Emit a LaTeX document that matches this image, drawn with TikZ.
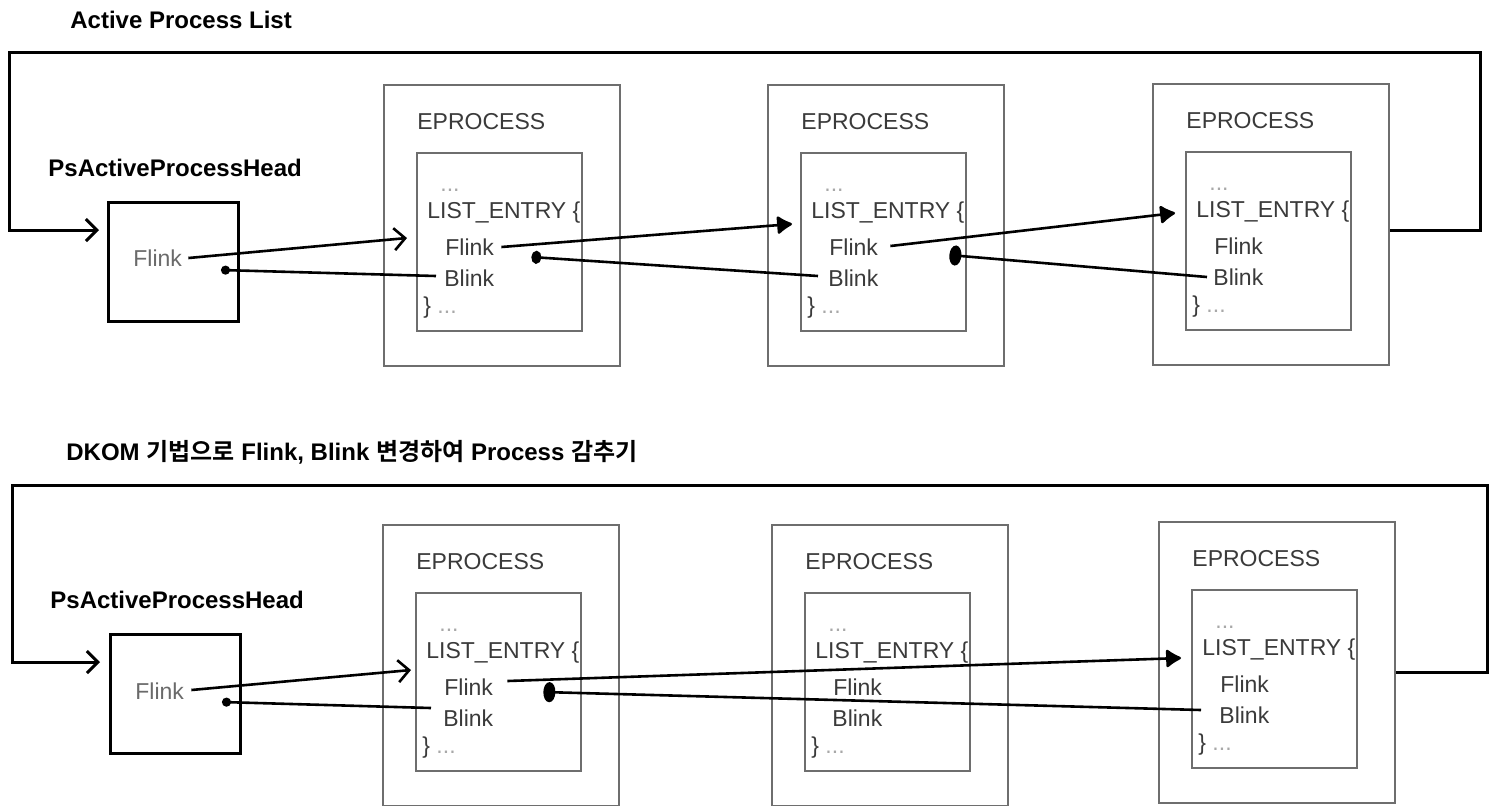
\documentclass[tikz,border=0pt]{standalone}
\usepackage{fontspec}
\setmainfont{Liberation Sans}
\newfontfamily\krfont{Noto Sans CJK KR}[BoldFont={Noto Sans CJK KR Bold}]
\usetikzlibrary{arrows.meta,calc}

\definecolor{boxgray}{HTML}{6E6E6E}
\definecolor{txtgray}{HTML}{3A3A3A}
\definecolor{dimgray}{HTML}{A8A8A8}
\definecolor{headtxt}{HTML}{6A6A6A}

\tikzset{
  outbox/.style={draw=boxgray, line width=1pt, minimum width=118pt, minimum height=140.5pt, anchor=north west, inner sep=0pt},
  inbox/.style={draw=boxgray, line width=1pt, minimum width=82.5pt, minimum height=89pt, anchor=north west, inner sep=0pt},
  headbox/.style={draw=black, line width=1.5pt, minimum width=65pt, minimum height=59.5pt, anchor=north west, inner sep=0pt},
  lbl/.style={anchor=west, inner sep=0pt, text=txtgray, font=\fontsize{11.5}{13}\selectfont},
  dim/.style={lbl, text=dimgray},
  headflink/.style={lbl, text=headtxt},
  title/.style={anchor=west, inner sep=0pt, font=\fontsize{12}{14}\selectfont\bfseries},
  link/.style={draw=black, line width=1.3pt},
  loopline/.style={draw=black, line width=1.5pt},
  opentip/.style={-{Straight Barb[length=5.5pt,width=11pt]}},
  filltip/.style={-{Latex[length=8.5pt,width=10.5pt,round]}},
  dottip/.style={-{Circle[length=4.5pt]}},
  smallblob/.style={-{Circle[length=5pt,width=6.5pt]}},
  blobtip/.style={-{Circle[length=6pt,width=10pt]}},
}

% One EPROCESS frame with its LIST_ENTRY block; #1 = name prefix,
% (#2,#3) = top-left corner of the outer frame
\newcommand\eproc[3]{%
  \node[outbox] (#1out) at (#2,#3) {};
  \node[inbox] (#1in) at ({#2+33},{#3+68}) {};
  \node[lbl] (#1lbl) at ({#2+34},{#3+38}) {EPROCESS};
  \node[dim] (#1dots) at ({#2+57},{#3+106}) {...};
  \node[lbl] (#1le) at ({#2+44},{#3+129}) {LIST\_ENTRY \{};
  \node[lbl] (#1fl) at ({#2+62},{#3+163}) {Flink};
  \node[lbl] (#1bl) at ({#2+61},{#3+194}) {Blink};
  \node[lbl] (#1end) at ({#2+40},{#3+224}) {\} \textcolor{dimgray}{...}};
}

\begin{document}
\begin{tikzpicture}[x=0.5pt,y=-0.5pt]
\useasboundingbox (0,0) rectangle (1493,805);

% ---------- intact list ----------
\node[title] (ttl1) at (70,20) {Active Process List};
\node[title] (phd1) at (48,168) {PsActiveProcessHead};
\node[headbox] (hb1) at (107,201) {};
\node[headflink] (hf1) at (133,258) {Flink};
\eproc{ta}{383}{84}
\eproc{tb}{767}{84}
\eproc{tc}{1152}{83}

\draw[link,opentip]   ($(hf1.east)+(6,0)$) -- ($(tain.west)+(-9,-4)$);
\draw[link,dottip]    ($(tabl.west)+(-8,-2)$) -- ($(hb1.east)+(-19,8)$);
\draw[link,filltip]   ($(tafl.east)+(7,0)$) -- ($(tbin.west)+(-8,-18)$);
\draw[link,smallblob] ($(tbbl.west)+(-10,-2)$) -- ($(tafl.east)+(37,10)$);
\draw[link,filltip]   ($(tbfl.east)+(12,-1)$) -- ($(tcin.west)+(-10,-28)$);
\draw[link,blobtip]   ($(tcbl.west)+(-6,0)$) -- ($(tbfl.east)+(71,8)$);

\coordinate (tl1) at (1480,52);
\coordinate (tl2) at (9,52);
\draw[loopline,opentip] ($(tcout.east)+(0,6)$) -| (tl1) -- (tl2) |- ($(hb1.west)+(-8,-32)$);

% ---------- list after unlinking the middle process ----------
\node[title] (ttl2) at (66,452) {DKOM {\krfont\bfseries 기법으로} Flink, Blink {\krfont\bfseries 변경하여} Process {\krfont\bfseries 감추기}};
\node[title] (phd2) at (50,600) {PsActiveProcessHead};
\node[headbox] (hb2) at (109,633) {};
\node[headflink] (hf2) at (135,691) {Flink};
\eproc{ba}{382}{524}
\eproc{bb}{771}{524}
\eproc{bc}{1158}{521}

\draw[link,opentip] ($(hf2.east)+(7,-1)$) -- ($(bain.west)+(-4,-12)$);
\draw[link,dottip]  ($(babl.west)+(-12,-10)$) -- ($(hb2.east)+(-20,8)$);
\draw[link,filltip] ($(bafl.east)+(14,-6)$) -- ($(bcin.west)+(-10,-21)$);
\draw[link,blobtip] ($(bcbl.west)+(-18,-5)$) -- ($(bafl.east)+(50,5)$);

\coordinate (bl1) at (1487,485);
\coordinate (bl2) at (12,485);
\draw[loopline,opentip] ($(bcout.east)+(0,10)$) -| (bl1) -- (bl2) |- ($(hb2.west)+(-9,-32)$);
\end{tikzpicture}
\end{document}
